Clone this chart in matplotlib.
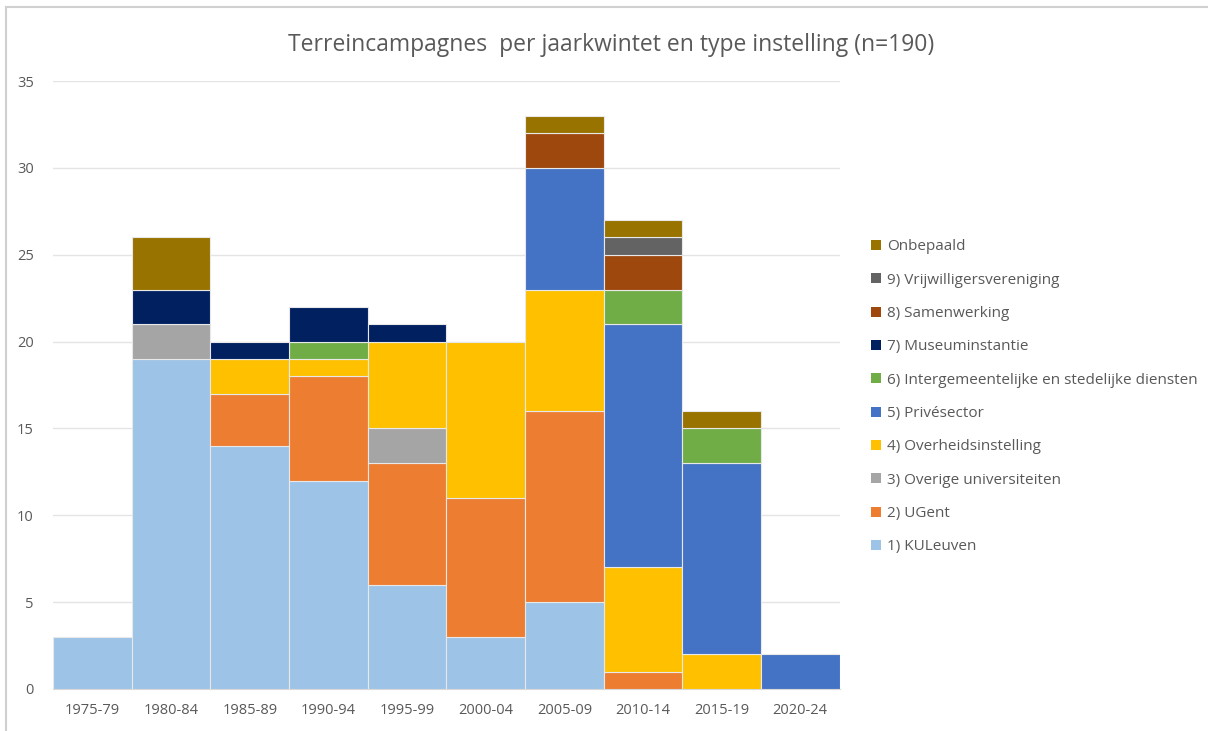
import matplotlib.pyplot as plt
import numpy as np
from matplotlib.lines import Line2D
from matplotlib.patches import Patch

plt.rcParams['font.family'] = ['Open Sans', 'DejaVu Sans']

periods = ['1975-79', '1980-84', '1985-89', '1990-94', '1995-99',
           '2000-04', '2005-09', '2010-14', '2015-19', '2020-24']

# counts per type, stacked bottom -> top
kuleuven      = [3, 19, 14, 12, 6, 3, 5, 0, 0, 0]
ugent         = [0, 0, 3, 6, 7, 8, 11, 1, 0, 0]
overige_univ  = [0, 2, 0, 0, 2, 0, 0, 0, 0, 0]
overheid      = [0, 0, 2, 1, 5, 9, 7, 6, 2, 0]
privesector   = [0, 0, 0, 0, 0, 0, 7, 14, 11, 2]
intergemeente = [0, 0, 0, 1, 0, 0, 0, 2, 2, 0]
museum        = [0, 2, 1, 2, 1, 0, 0, 0, 0, 0]
samenwerking  = [0, 0, 0, 0, 0, 0, 2, 2, 0, 0]
vrijwilligers = [0, 0, 0, 0, 0, 0, 0, 1, 0, 0]
onbepaald     = [0, 3, 0, 0, 0, 0, 1, 1, 1, 0]

series = [
    ('1) KULeuven', kuleuven, '#9DC3E6'),
    ('2) UGent', ugent, '#ED7D31'),
    ('3) Overige universiteiten', overige_univ, '#A5A5A5'),
    ('4) Overheidsinstelling', overheid, '#FFC000'),
    ('5) Privésector', privesector, '#4472C4'),
    ('6) Intergemeentelijke en stedelijke diensten', intergemeente, '#70AD47'),
    ('7) Museuminstantie', museum, '#002060'),
    ('8) Samenwerking', samenwerking, '#9E480E'),
    ('9) Vrijwilligersvereniging', vrijwilligers, '#636363'),
    ('Onbepaald', onbepaald, '#997300'),
]

txt = '#595959'

fig = plt.figure(figsize=(12.08, 7.31), dpi=100)
ax = fig.add_axes([0.044, 0.0575, 0.651, 0.8315])

x = np.arange(len(periods))
bottom = np.zeros(len(periods))
for label, vals, color in series:
    vals = np.array(vals, dtype=float)
    edges = ['#E8E8E8' if v > 0 else 'none' for v in vals]
    ax.bar(x, vals, width=1.0, bottom=bottom, color=color,
           edgecolor=edges, linewidth=0.8, label=label, zorder=3)
    bottom += vals

ax.set_xlim(-0.5, len(periods) - 0.5)
ax.set_ylim(0, 35)
ax.set_yticks(range(0, 36, 5))
ax.set_xticks(x)
ax.set_xticklabels(periods)
ax.grid(axis='y', color='#E4E4E4', linewidth=1, zorder=0)
for s in ['top', 'right', 'left']:
    ax.spines[s].set_visible(False)
ax.spines['bottom'].set_color('#D9D9D9')
ax.tick_params(axis='both', length=0, colors=txt, labelsize=10.5)
ax.tick_params(axis='y', pad=14)
ax.tick_params(axis='x', pad=10)

fig.text(0.506, 0.938, 'Terreincampagnes  per jaarkwintet en type instelling (n=190)',
         ha='center', va='center', fontsize=16.5, color=txt)

handles = [Patch(facecolor=c, edgecolor='none', label=l) for l, _, c in series][::-1]
fig.legend(handles=handles, loc='center left', bbox_to_anchor=(0.71, 0.457),
           frameon=False, fontsize=11, labelcolor=txt, handlelength=0.65,
           handleheight=0.65, handletextpad=0.4, labelspacing=1.2)

# screenshot frame lines (top and left)
fig.add_artist(Line2D([0.005, 0.005], [0, 0.99], color='#D0D0D0', linewidth=1.5,
                      transform=fig.transFigure))
fig.add_artist(Line2D([0.005, 1], [0.99, 0.99], color='#D0D0D0', linewidth=1.5,
                      transform=fig.transFigure))

fig.savefig('out.png', dpi=100)
